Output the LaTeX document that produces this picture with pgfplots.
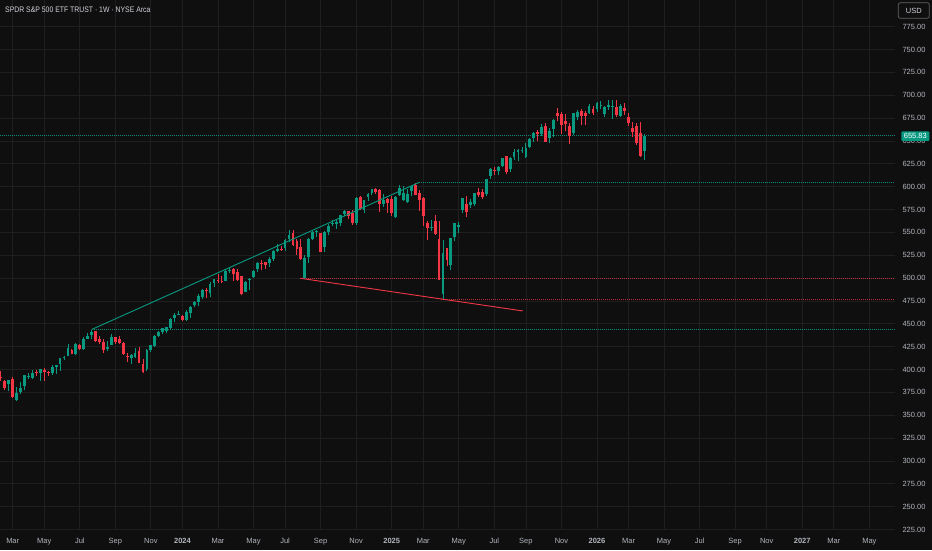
\documentclass[border=0pt]{standalone}
\usepackage{pgfplots}
\pgfplotsset{compat=1.18}
\usepackage{pgfplotstable}
\usepackage{graphicx}
\usepackage{fontspec}
\setmainfont{Liberation Sans}
\definecolor{bg}{HTML}{0F0F0F}
\definecolor{gridc}{HTML}{1F1F1F}
\definecolor{up}{HTML}{089981}
\definecolor{dn}{HTML}{F23645}
\definecolor{lbl}{HTML}{B2B5BE}
\definecolor{ttl}{HTML}{D1D4DC}
\colorlet{updot}{up!90!bg}
\colorlet{dndot}{dn!75!bg}

\pgfplotstableread{
w o h l c
-46 392.1 398.4 387.5 390.7
-45 387.0 388.1 377.5 380.3
-44 383.8 388.4 377.0 388.1
-43 389.2 391.7 368.5 370.1
-42 366.4 381.1 365.3 374.6
-41 375.2 386.9 373.8 380.2
-40 382.3 393.9 377.9 393.6
-39 392.5 395.9 389.8 393.2
-38 390.7 399.2 390.0 396.6
-37 397.0 399.8 393.0 396.3
-36 396.2 400.4 388.0 400.1
-35 399.8 401.9 388.0 396.9
-34 397.4 398.9 393.3 396.0
-33 396.6 405.1 394.3 403.0
-32 403.1 405.5 395.2 404.5
-31 406.4 413.1 398.9 412.3
-30 412.5 415.2 410.0 414.1
-29 415.0 428.0 414.3 423.6
-28 421.7 422.6 416.7 417.4
-27 416.8 428.5 415.4 427.5
-26 427.2 428.4 421.4 422.9
-25 422.4 435.6 421.8 433.5
-24 433.2 440.5 433.1 436.3
-23 437.5 443.5 433.9 441.0
-22 441.7 442.5 430.6 431.1
-21 433.3 436.3 427.9 430.3
-20 429.6 433.0 417.9 421.4
-19 422.6 430.8 420.0 425.0
-18 427.1 438.6 426.8 436.1
-17 435.7 436.1 427.8 430.5
-16 433.4 436.3 428.1 428.6
-15 428.7 430.6 416.2 417.0
-14 415.2 418.3 408.3 413.5
-13 412.7 417.2 406.3 415.6
-12 413.7 423.4 413.1 417.6
-11 420.0 424.3 407.3 407.4
-10 406.4 411.8 396.0 397.5
-9 400.2 422.9 398.8 421.3
-8 421.8 427.2 419.7 426.9
-7 425.4 437.6 424.6 437.0
-6 436.6 442.5 436.1 441.4
-5 440.8 445.8 439.2 445.2
-4 441.9 446.9 439.9 446.3
-3 445.7 456.7 444.8 455.3
-2 456.0 461.9 452.5 459.7
-1 460.1 463.6 459.3 461.3
0 458.5 460.0 452.7 454.2
1 454.7 464.9 453.3 463.0
2 461.6 469.0 456.2 468.7
3 470.1 475.2 468.9 473.5
4 473.9 482.3 469.1 480.6
5 479.8 487.8 476.7 487.3
6 487.2 489.7 477.8 485.7
7 483.9 496.3 479.8 494.1
8 494.4 499.4 490.1 499.0
9 498.1 504.3 495.1 497.8
10 496.8 501.8 494.9 496.1
11 496.8 510.4 496.8 507.5
12 507.5 510.9 505.4 509.4
13 510.3 510.9 497.3 504.9
14 507.2 509.9 496.6 497.6
15 502.2 502.4 481.0 482.3
16 485.1 497.2 484.7 495.6
17 497.4 499.9 487.2 498.6
18 501.0 509.2 500.5 508.0
19 509.7 518.1 506.9 516.6
20 516.8 520.3 509.4 516.0
21 517.7 517.9 510.0 514.8
22 516.4 522.8 512.1 521.4
23 520.6 530.7 519.0 530.2
24 529.4 537.6 528.8 531.8
25 531.8 535.5 529.5 531.0
26 533.1 542.5 529.5 542.1
27 542.8 552.6 539.5 547.4
28 549.7 552.5 535.0 536.7
29 541.0 543.0 525.5 532.4
30 534.2 543.2 519.4 521.1
31 500.3 524.9 499.0 521.7
32 522.6 543.4 516.9 542.7
33 543.0 551.5 541.3 550.4
34 551.0 552.5 545.3 552.0
35 549.2 549.5 528.1 529.1
36 533.5 551.8 528.3 550.8
37 550.4 559.1 547.7 557.0
38 559.0 563.4 556.8 560.2
39 559.3 563.3 553.9 561.9
40 560.2 568.9 556.7 568.5
41 570.1 575.0 567.5 573.5
42 573.0 573.8 564.7 568.1
43 570.7 574.2 557.7 560.3
44 560.5 588.6 558.5 587.5
45 589.1 589.5 574.3 575.1
46 574.2 585.5 571.1 585.0
47 589.0 592.9 584.9 592.1
48 592.6 597.6 591.1 597.4
49 597.4 598.8 592.5 593.9
50 596.0 597.8 572.4 581.2
51 581.1 591.5 577.6 585.2
52 586.5 587.4 571.3 582.4
53 586.9 590.3 567.8 571.1
54 566.5 590.1 566.1 588.3
55 591.3 601.4 589.3 598.6
56 585.6 600.9 583.9 592.6
57 583.7 597.3 582.2 591.8
58 595.1 601.1 589.5 600.8
59 602.1 604.4 590.4 591.1
60 593.5 596.5 573.9 585.7
61 588.1 589.2 557.5 567.8
62 559.9 562.3 542.0 555.1
63 555.2 563.4 552.0 556.4
64 562.5 569.5 547.2 548.2
65 542.8 562.0 498.0 498.3
66 482.7 542.1 477.2 527.4
67 533.3 533.4 513.6 519.8
68 514.6 544.4 508.4 544.0
69 544.7 560.3 540.6 560.1
70 555.6 561.4 549.4 557.7
71 574.7 587.7 571.2 587.4
72 581.5 589.9 567.0 572.5
73 579.6 586.5 577.2 582.9
74 581.4 593.6 578.6 592.7
75 593.7 598.7 588.7 590.7
76 594.3 597.9 586.7 588.2
77 592.3 608.9 589.9 608.8
78 611.4 620.9 608.0 619.3
79 618.5 621.0 612.6 617.7
80 617.4 622.6 613.2 621.8
81 623.1 631.9 621.2 631.4
82 633.2 633.5 613.8 616.2
83 619.6 632.6 615.6 631.8
84 632.7 640.9 629.7 638.1
85 637.8 640.9 627.9 640.2
86 639.0 643.0 637.0 640.1
87 632.7 647.4 631.2 642.4
88 643.9 653.3 642.3 652.7
89 653.4 660.0 649.4 659.1
90 659.5 662.5 650.5 657.3
91 657.7 668.4 655.7 664.9
92 666.9 669.8 648.7 648.9
93 653.0 664.0 648.0 660.4
94 663.1 673.8 654.1 673.4
95 681.0 685.9 672.2 677.0
96 679.5 681.5 657.5 667.5
97 671.6 680.0 661.1 668.5
98 666.9 669.9 646.9 655.9
99 659.0 681.0 657.0 680.4
100 676.0 684.0 673.0 682.0
101 683.0 685.0 668.0 677.5
102 681.0 683.0 667.5 677.3
103 681.0 690.0 679.0 688.3
104 685.0 688.0 678.0 680.3
105 684.6 693.0 682.0 691.2
106 688.2 693.6 684.6 689.3
107 679.2 688.5 676.0 687.5
108 687.5 694.8 683.9 689.0
109 687.5 694.8 674.0 688.5
110 686.8 694.8 676.6 678.4
111 677.7 690.0 676.0 688.3
112 685.7 691.5 678.4 683.1
113 676.6 680.6 666.4 669.3
114 663.9 671.1 654.7 660.2
115 666.4 670.0 646.0 647.5
116 658.4 671.0 632.8 633.6
117 639.4 657.6 629.0 655.83
}\spy

\begin{document}
\begin{tikzpicture}[x=1pt,y=1pt]
\useasboundingbox (0,0) rectangle (932,550);
\fill[bg] (0,0) rectangle (932,550);
\begin{axis}[
  at={(0pt,20pt)}, anchor=south west, scale only axis,
  width=895pt, height=530pt,
  xmin=-46.22, xmax=180.5, ymin=224.5, ymax=804.2,
  axis line style={draw=none},
  major tick length=0pt,
  grid=major, major grid style={draw=gridc, line width=0.8pt},
  xtick={-43,-35,-26,-17,-8,0,9,18,26,35,44,53,61,70,79,87,96,105,113,122,131,140,148,157,165,174},
  xticklabels={Mar,May,Jul,Sep,Nov,{\textbf{2024}},Mar,May,Jul,Sep,Nov,{\textbf{2025}},Mar,May,Jul,Sep,Nov,{\textbf{2026}},Mar,May,Jul,Sep,Nov,{\textbf{2027}},Mar,May},
  xticklabel style={font=\fontsize{7.5}{9}\selectfont, text=lbl, anchor=base, yshift=-13.5pt},
  ytick={225,250,...,775},
  scaled y ticks=false,
  yticklabel pos=right,
  yticklabel style={font=\fontsize{7.5}{9}\selectfont, text=lbl, anchor=west, xshift=4pt,
    /pgf/number format/.cd, fixed, fixed zerofill, precision=2, assume math mode=true},
]
% reference lines (drawn first, below candles)
\addplot[updot, line width=0.9pt, dash pattern=on 1pt off 1pt, mark=none] coordinates {(-23,443.8) (180.5,443.8)};
\addplot[updot, line width=0.9pt, dash pattern=on 1pt off 1pt, mark=none] coordinates {(60,604.8) (180.5,604.8)};
\addplot[dndot, line width=0.9pt, dash pattern=on 1pt off 1pt, mark=none] coordinates {(29.9,499.8) (180.5,499.8)};
\addplot[dndot, line width=0.9pt, dash pattern=on 1pt off 1pt, mark=none] coordinates {(65.6,477.2) (180.5,477.2)};
\addplot[updot, line width=0.9pt, dash pattern=on 1pt off 1pt, mark=none] coordinates {(-46.22,655.83) (180.5,655.83)};
% up candles
\addplot[draw=none, mark=none, forget plot,
  restrict expr to domain={\thisrow{c}-\thisrow{o}}{0:1000},
  error bars/.cd, y dir=plus, y explicit, error mark=none,
  error bar style={draw=up, line width=0.9pt}]
  table[x=w, y=l, y error expr=\thisrow{h}-\thisrow{l}] {\spy};
\addplot[draw=none, mark=none, forget plot,
  restrict expr to domain={\thisrow{c}-\thisrow{o}}{0:1000},
  error bars/.cd, y dir=plus, y explicit, error mark=none,
  error bar style={draw=up, line width=2.8pt}]
  table[x=w, y=o, y error expr=\thisrow{c}-\thisrow{o}] {\spy};
% down candles
\addplot[draw=none, mark=none, forget plot,
  restrict expr to domain={\thisrow{c}-\thisrow{o}}{-1000:0},
  error bars/.cd, y dir=plus, y explicit, error mark=none,
  error bar style={draw=dn, line width=0.9pt}]
  table[x=w, y=l, y error expr=\thisrow{h}-\thisrow{l}] {\spy};
\addplot[draw=none, mark=none, forget plot,
  restrict expr to domain={\thisrow{c}-\thisrow{o}}{-1000:0},
  error bars/.cd, y dir=plus, y explicit, error mark=none,
  error bar style={draw=dn, line width=2.8pt}]
  table[x=w, y=c, y error expr=\thisrow{o}-\thisrow{c}] {\spy};
% trend lines
\addplot[up, line width=0.9pt, mark=none] coordinates {(-23,443.8) (60,604.8)};
\addplot[dn, line width=0.9pt, mark=none] coordinates {(29.9,499.8) (86.2,464.1)};
\end{axis}
\node[anchor=west, text=ttl, inner sep=0pt] at (5,540) {\scalebox{0.86}[1]{\fontsize{8}{9}\selectfont SPDR S\&P 500 ETF TRUST · 1W · NYSE Arca}};
\node[draw=gridc!70!white, line width=0.7pt, rounded corners=2pt, minimum width=31pt, minimum height=15.5pt, inner sep=0pt, text=ttl, font=\fontsize{7.5}{9}\selectfont] at (913.8,539.5) {USD};
\node[fill=up, rounded corners=1pt, minimum width=28pt, minimum height=9.5pt, inner sep=0pt, text=white, font=\fontsize{7.5}{9}\selectfont] at (915.3,413.8) {655.83};
\end{tikzpicture}
\end{document}
